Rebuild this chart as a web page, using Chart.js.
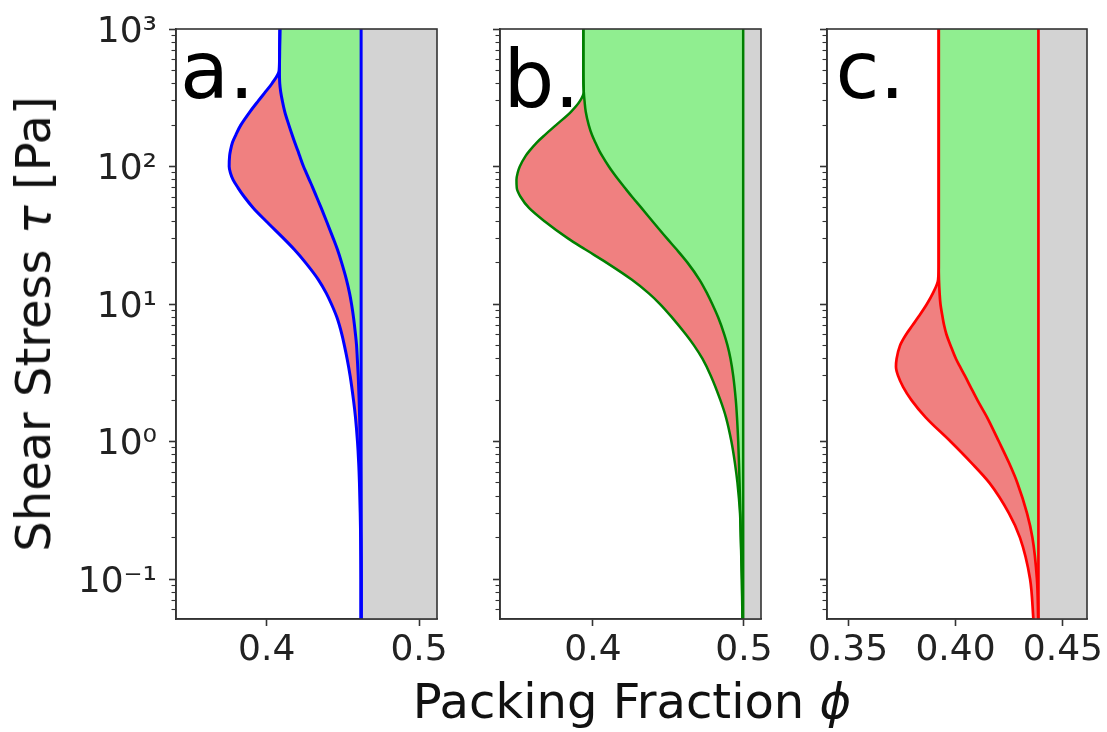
<!DOCTYPE html>
<html>
<head>
<meta charset="utf-8">
<script src="https://cdn.jsdelivr.net/npm/chart.js@4/dist/chart.umd.min.js"></script>
<style>
  html, body { margin: 0; padding: 0; background: #fff; }
  #fig { position: relative; width: 1107px; height: 732px; overflow: hidden; background: #fff; }
  #fig canvas { position: absolute; top: 0; }
  .axlab { position: absolute; font-family: 'DejaVu Sans'; font-size: 48px; line-height: 48px;
           color: #111; white-space: nowrap; }
  #xlab { left: 632px; top: 677px; transform: translateX(-50%); }
  #ylab { left: 33px; top: 324px; transform: translate(-50%, -50%) rotate(-90deg); }
</style>
</head>
<body>
<div id="fig">
  <canvas id="ca" width="470" height="732" style="left:0px"></canvas>
  <canvas id="cb" width="350" height="732" style="left:440px"></canvas>
  <canvas id="cc" width="337" height="732" style="left:770px"></canvas>
  <div class="axlab" id="xlab">Packing Fraction <i>ϕ</i></div>
  <div class="axlab" id="ylab">Shear Stress <i>τ</i> [Pa]</div>
</div>
<script>
// ---- shear stress samples (Pa) and boundary packing fractions ----
// dst*: left edge of the shear-thickening band, jam*: stress-dependent jamming line,
// phi0*: frictionless jamming fraction
// panel a
const tauA = [1000, 700, 500, 400, 350, 300, 250, 200, 170, 150, 130, 120, 100, 90, 80, 70, 60, 50,
              40, 30, 25, 20, 15, 12, 10, 8, 6, 5, 4, 3, 2, 1.5, 1, 0.7, 0.5, 0.3, 0.2, 0.1, 0.05];
const dstA = [0.4087, 0.4085, 0.4082, 0.4034, 0.3993, 0.3945, 0.3890, 0.3830, 0.3798, 0.3776, 0.3762,
              0.3757, 0.3754, 0.3762, 0.3780, 0.3812, 0.3854, 0.3912, 0.3997, 0.4111, 0.4180, 0.4255,
              0.4340, 0.4391, 0.4425, 0.4461, 0.4494, 0.4510, 0.4528, 0.4548, 0.4570, 0.4583, 0.4596,
              0.4604, 0.4609, 0.4614, 0.4617, 0.4620, 0.4620];
const jamA = [0.4087, 0.4085, 0.4084, 0.4086, 0.4092, 0.4103, 0.4119, 0.4146, 0.4167, 0.4184, 0.4205,
              0.4216, 0.4242, 0.4260, 0.4280, 0.4303, 0.4328, 0.4358, 0.4393, 0.4437, 0.4464, 0.4492,
              0.4524, 0.4544, 0.4557, 0.4570, 0.4583, 0.4590, 0.4595, 0.4601, 0.4607, 0.4610, 0.4614,
              0.4616, 0.4617, 0.4618, 0.4619, 0.4620, 0.4620];
const phi0A = 0.462;

// panel b
const tauB = [1000, 700, 500, 400, 350, 300, 250, 200, 170, 150, 130, 120, 100, 90, 80, 70, 60, 50,
              40, 30, 25, 20, 15, 12, 10, 8, 6, 5, 4, 3, 2, 1.5, 1, 0.7, 0.5, 0.3, 0.2, 0.1, 0.05];
const dstB = [0.3936, 0.3936, 0.3936, 0.3937, 0.3939, 0.3914, 0.3854, 0.3755, 0.3682, 0.3629, 0.3579,
              0.3555, 0.3515, 0.3501, 0.3493, 0.3495, 0.3521, 0.3576, 0.3679, 0.3834, 0.3947, 0.4089,
              0.4258, 0.4368, 0.4444, 0.4523, 0.4616, 0.4669, 0.4725, 0.4781, 0.4844, 0.4881, 0.4917,
              0.4940, 0.4957, 0.4974, 0.4979, 0.4986, 0.4990];
const jamB = [0.3936, 0.3936, 0.3936, 0.3937, 0.3939, 0.3944, 0.3952, 0.3972, 0.3993, 0.4015, 0.4042,
              0.4060, 0.4105, 0.4134, 0.4169, 0.4211, 0.4260, 0.4321, 0.4394, 0.4490, 0.4553, 0.4626,
              0.4706, 0.4755, 0.4790, 0.4829, 0.4870, 0.4891, 0.4911, 0.4929, 0.4946, 0.4954, 0.4962,
              0.4967, 0.4971, 0.4976, 0.4980, 0.4987, 0.4991];
const phi0B = 0.4995;

// panel c
const tauC = [1000, 300, 100, 50, 30, 20, 15, 12, 10, 8, 7, 6, 5, 4, 3.5, 3, 2.5, 2, 1.5, 1,
              0.7, 0.5, 0.3, 0.2, 0.1, 0.05];
const dstC = [0.3922, 0.3922, 0.3922, 0.3922, 0.3922, 0.3922, 0.3919, 0.3895, 0.3867, 0.3826, 0.3800,
              0.3770, 0.3742, 0.3726, 0.3723, 0.3733, 0.3756, 0.3795, 0.3861, 0.3977, 0.4074, 0.4158,
              0.4249, 0.4300, 0.4347, 0.4363];
const jamC = [0.3922, 0.3922, 0.3922, 0.3922, 0.3922, 0.3922, 0.3923, 0.3926, 0.3930, 0.3940, 0.3947,
              0.3958, 0.3977, 0.4002, 0.4021, 0.4044, 0.4070, 0.4102, 0.4147, 0.4202, 0.4249, 0.4288,
              0.4333, 0.4358, 0.4379, 0.4385];
const phi0C = 0.4386;

// ---- axis ticks ----
const yMajorTicks  = [0.1, 1, 10, 100, 1000];
const yMajorLabels = ['10⁻¹', '10⁰', '10¹', '10²', '10³'];
const xTicksA  = [0.4, 0.5];         const xLabelsA = ['0.4', '0.5'];
const xTicksB  = [0.4, 0.5];         const xLabelsB = ['0.4', '0.5'];
const xTicksC  = [0.35, 0.40, 0.45]; const xLabelsC = ['0.35', '0.40', '0.45'];

const Y_MIN = 0.0512, Y_MAX = 1000;
const yMinorTicks = [];
for (let e = -2; e <= 2; e++) {
  for (let m = 2; m <= 9; m++) {
    const v = m * Math.pow(10, e);
    if (v >= Y_MIN && v <= Y_MAX) yMinorTicks.push(v);
  }
}

const FONT = 'DejaVu Sans';
const INK = '#222';
const SPINE = '#333';
const FILL_RED = '#F08080', FILL_GREEN = '#90EE90', FILL_GRAY = '#D3D3D3';

Chart.defaults.font.family = FONT;

function pts(phis, taus) {
  return taus.map((t, i) => ({ x: phis[i], y: t }));
}

// frame around the plot area and the panel letter
const framePlugin = {
  id: 'frame',
  afterDatasetsDraw(chart, args, opts) {
    const { ctx, chartArea: a } = chart;
    ctx.save();
    ctx.fillStyle = '#000';
    ctx.font = '80px ' + FONT;
    ctx.textBaseline = 'alphabetic';
    ctx.textAlign = 'left';
    ctx.fillText(opts.letter, a.left + opts.dx, a.top + opts.dy);
    ctx.strokeStyle = SPINE;
    ctx.lineWidth = 1.6;
    ctx.strokeRect(a.left, a.top, a.right - a.left, a.bottom - a.top);
    ctx.restore();
  }
};

function makePanel(p) {
  // curves are single-valued in stress, so interpolate monotonically along the stress axis
  const lineDs = (data, smooth) => ({
    data, showLine: true, fill: false, borderColor: p.color, borderWidth: p.lw,
    pointRadius: 0, cubicInterpolationMode: smooth ? 'monotone' : 'default', tension: 0,
    borderJoinStyle: 'round', yAxisID: 'y', xAxisID: 'x'
  });
  const areaDs = (data, color, smooth) => ({
    data, showLine: true, fill: 'shape', backgroundColor: color, borderWidth: 0,
    pointRadius: 0, cubicInterpolationMode: smooth ? 'monotone' : 'default', tension: 0,
    yAxisID: 'y', xAxisID: 'x'
  });
  const n = p.tau.length;
  const dstLine = pts(p.dst, p.tau);
  const jamLine = pts(p.jam, p.tau);
  const vLine = [{ x: p.phi0, y: Y_MIN }, { x: p.phi0, y: Y_MAX }];
  const redArea = dstLine.concat(jamLine.slice().reverse());
  const greenArea = jamLine.concat([{ x: p.phi0, y: p.tau[n - 1] }, { x: p.phi0, y: p.tau[0] }]);
  const grayArea = [{ x: p.phi0, y: Y_MAX }, { x: p.xMax, y: Y_MAX },
                    { x: p.xMax, y: Y_MIN }, { x: p.phi0, y: Y_MIN }];

  return new Chart(document.getElementById(p.id), {
    type: 'scatter',
    data: {
      datasets: [
        lineDs(dstLine, true),
        lineDs(jamLine, true),
        lineDs(vLine, false),
        areaDs(redArea, FILL_RED, true),
        areaDs(greenArea, FILL_GREEN, true),
        areaDs(grayArea, FILL_GRAY, false)
      ]
    },
    options: {
      indexAxis: 'y',
      responsive: false,
      animation: false,
      devicePixelRatio: 1,
      events: [],
      layout: { autoPadding: false, padding: { left: 0, top: 29, right: p.padRight, bottom: 0 } },
      plugins: {
        legend: { display: false },
        tooltip: { enabled: false },
        frame: { letter: p.letter, dx: p.letterDx, dy: p.letterDy }
      },
      scales: {
        x: {
          type: 'linear', position: 'bottom', min: p.xMin, max: p.xMax,
          afterBuildTicks: s => { s.ticks = p.xTicks.map(v => ({ value: v })); },
          afterFit: s => { s.height = 732 - 619; s.paddingLeft = 0; s.paddingRight = 0; },
          ticks: {
            autoSkip: false, maxRotation: 0, padding: 3, color: INK,
            font: { family: FONT, size: 36 },
            callback: (v, i) => p.xLabels[i]
          },
          grid: { drawOnChartArea: false, drawTicks: true, tickLength: 7, tickColor: SPINE, tickWidth: 1.6 },
          border: { display: true, color: SPINE, width: 1.6 }
        },
        y: {
          type: 'logarithmic', position: 'left', weight: 1, min: Y_MIN, max: Y_MAX,
          afterBuildTicks: s => { s.ticks = yMajorTicks.map(v => ({ value: v })); },
          afterFit: s => { s.width = p.yWidth; s.paddingTop = 0; s.paddingBottom = 0; },
          ticks: {
            display: p.yLabels, autoSkip: false, padding: 12, labelOffset: 3.5, color: INK,
            font: { family: FONT, size: 36 },
            callback: (v, i) => yMajorLabels[i]
          },
          grid: { drawOnChartArea: false, drawTicks: true, tickLength: 7, tickColor: SPINE, tickWidth: 1.6 },
          border: { display: true, color: SPINE, width: 1.6 }
        },
        yMinor: {
          type: 'logarithmic', position: 'left', weight: 0, min: Y_MIN, max: Y_MAX,
          afterBuildTicks: s => { s.ticks = yMinorTicks.map(v => ({ value: v })); },
          afterFit: s => { s.width = 0; s.paddingTop = 0; s.paddingBottom = 0; },
          ticks: { display: false },
          grid: { drawOnChartArea: false, drawTicks: true, tickLength: 4.5, tickColor: SPINE, tickWidth: 1.1 },
          border: { display: false }
        }
      }
    },
    plugins: [framePlugin]
  });
}

makePanel({ id: 'ca', tau: tauA, dst: dstA, jam: jamA, phi0: phi0A, xMin: 0.3405, xMax: 0.5118,
            xTicks: xTicksA, xLabels: xLabelsA, color: '#0000FF', lw: 3, yLabels: true,
            yWidth: 176, padRight: 33, letter: 'a.', letterDx: 4, letterDy: 69 });
makePanel({ id: 'cb', tau: tauB, dst: dstB, jam: jamB, phi0: phi0B, xMin: 0.3384, xMax: 0.5113,
            xTicks: xTicksB, xLabels: xLabelsB, color: '#008000', lw: 2.5, yLabels: false,
            yWidth: 60, padRight: 29, letter: 'b.', letterDx: 3.5, letterDy: 78 });
makePanel({ id: 'cc', tau: tauC, dst: dstC, jam: jamC, phi0: phi0C, xMin: 0.3402, xMax: 0.4612,
            xTicks: xTicksC, xLabels: xLabelsC, color: '#FF0000', lw: 2.7, yLabels: false,
            yWidth: 57, padRight: 20, letter: 'c.', letterDx: 8.5, letterDy: 69 });
</script>
</body>
</html>
